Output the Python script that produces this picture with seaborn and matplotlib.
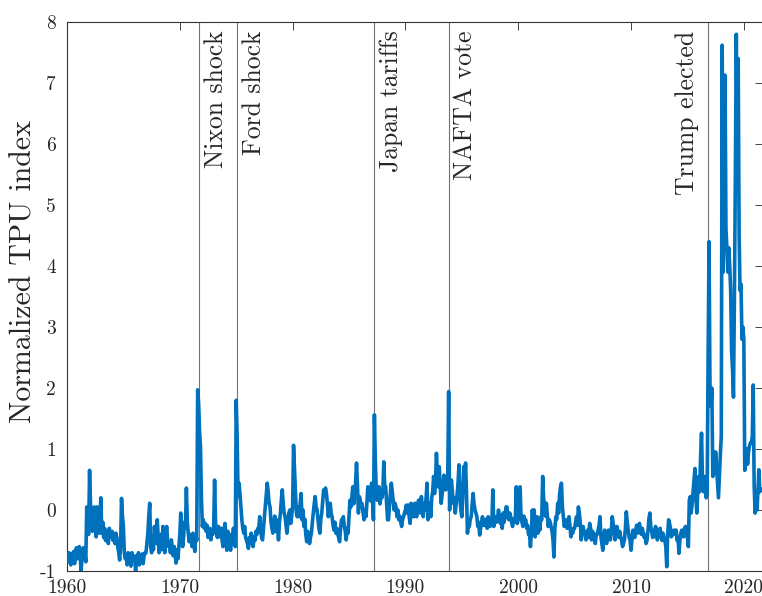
import numpy as np
import pandas as pd
import matplotlib
matplotlib.use("Agg")
import matplotlib.pyplot as plt
import seaborn as sns

# Monthly normalized trade policy uncertainty index, Jan 1960 - Jul 2021
tpu_1960s = [
    -0.72, -0.85, -0.70, -0.78, -0.90, -0.72, -0.80, -0.68, -0.88, -0.75, -0.62, -0.80,
    -0.70, -0.60, -0.75, -1.00, -0.78, -0.62, -0.80, -0.70, -0.85, 0.05, -0.30, -0.40,
    0.65, 0.10, -0.20, -0.35, -0.25, 0.05, -0.10, -0.44, 0.05, -0.30, -0.38, -0.10,
    0.20, -0.38, -0.20, -0.45, -0.30, -0.50, -0.35, -0.40, -0.55, -0.30, -0.45, -0.40,
    -0.35, -0.50, -0.40, -0.55, -0.38, -0.45, -0.60, -0.70, -0.82, -0.60, 0.19, -0.10,
    -0.27, -0.71, -0.80, -0.75, -0.90, -0.70, -0.85, -0.78, -0.92, -0.70, -0.82, -0.75,
    -0.80, -1.00, -0.75, -0.85, -0.70, -0.90, -0.78, -0.82, -0.72, -0.88, -0.75, -0.70,
    -0.70, -0.55, -0.38, -0.10, 0.11, -0.60, -0.70, -0.50, -0.65, -0.27, -0.45, -0.55,
    -0.16, -0.45, -0.70, -0.55, -0.40, -0.65, -0.27, -0.50, -0.70, -0.45, -0.27, -0.50,
    -0.60, -0.55, -0.70, -0.49, -0.62, -0.75, -0.60, -0.71, -0.87, -0.65, -0.80, -0.60,
]
tpu_1970s = [
    -0.40, -0.05, -0.35, -0.60, -0.45, -0.20, -0.30, 0.36, -0.20, -0.38, -0.52, -0.40,
    -0.45, -0.60, -0.38, -0.55, -0.68, -0.40, -0.50, 1.97, 1.75, 1.30, 1.04, 0.20,
    -0.27, -0.16, -0.30, -0.22, -0.35, -0.25, -0.45, -0.38, -0.30, -0.49, -0.35, -0.40,
    -0.30, 0.49, -0.20, -0.38, -0.45, -0.27, -0.35, -0.44, -0.30, -0.50, -0.60, -0.35,
    -0.22, -0.40, -0.66, -0.35, -0.60, -0.45, -0.66, -0.40, -0.55, -0.30, -0.45, -0.60,
    1.80, 1.20, 0.22, 0.44, 0.27, 0.05, -0.16, -0.30, -0.38, -0.27, -0.45, -0.50,
    -0.55, -0.63, -0.45, -0.50, -0.38, -0.55, -0.60, -0.44, -0.50, -0.35, -0.40, -0.30,
    -0.30, -0.11, -0.35, -0.45, -0.49, -0.30, -0.10, 0.10, 0.27, 0.44, 0.30, 0.11,
    0.05, -0.20, -0.30, -0.38, -0.25, -0.10, -0.35, -0.16, -0.30, -0.49, -0.20, -0.05,
    0.16, 0.33, 0.11, -0.05, -0.11, -0.25, -0.38, -0.20, -0.05, 0.00, -0.22, -0.10,
]
tpu_1980s = [
    0.05, 1.06, 0.66, 0.30, -0.05, -0.11, 0.05, -0.11, 0.10, 0.27, -0.16, 0.00,
    -0.27, -0.15, -0.40, -0.52, -0.35, -0.38, -0.55, -0.45, -0.38, -0.20, -0.05, 0.10,
    0.22, 0.05, 0.00, -0.16, -0.30, -0.38, -0.15, -0.05, 0.15, 0.33, 0.25, 0.36,
    0.27, 0.10, -0.11, 0.05, 0.11, -0.05, -0.11, -0.25, -0.33, -0.20, -0.38, -0.30,
    -0.40, -0.45, -0.52, -0.30, -0.16, -0.20, -0.11, -0.27, -0.35, -0.49, -0.30, -0.38,
    -0.10, 0.16, 0.05, 0.20, 0.38, 0.10, 0.25, 0.45, 0.77, 0.40, -0.05, 0.22,
    0.16, 0.05, 0.10, -0.05, -0.16, 0.00, -0.11, 0.10, 0.38, 0.20, 0.33, 0.15,
    0.44, 0.15, -0.16, 1.56, 0.80, 0.33, 0.16, 0.25, 0.38, 0.10, 0.27, 0.20,
    0.30, 0.79, 0.40, 0.38, 0.10, -0.16, -0.16, 0.05, 0.27, 0.44, 0.30, 0.16,
    0.00, 0.11, 0.05, -0.11, 0.00, -0.16, -0.10, -0.20, -0.27, -0.15, -0.11, -0.05,
]
tpu_1990s = [
    0.00, 0.08, -0.05, 0.08, -0.11, -0.22, 0.11, -0.11, 0.05, -0.11, 0.11, -0.05,
    -0.11, 0.05, 0.16, 0.00, -0.05, 0.22, 0.05, -0.11, 0.10, 0.00, 0.20, 0.44,
    -0.16, 0.00, 0.11, -0.11, 0.20, 0.30, 0.55, 0.27, 0.45, 0.93, 0.60, 0.38,
    0.71, 0.40, 0.11, 0.25, 0.38, 0.57, 0.45, 0.33, 0.40, 0.50, 1.94, 0.00,
    0.33, 0.49, 0.30, 0.11, 0.20, -0.05, 0.10, 0.25, 0.45, 0.74, 0.20, 0.00,
    -0.11, 0.20, 0.71, 0.50, 0.77, 0.27, -0.38, -0.20, -0.27, -0.15, -0.11, 0.10,
    0.27, 0.10, 0.00, -0.05, -0.11, -0.27, -0.20, -0.41, -0.30, -0.20, -0.11, -0.25,
    -0.25, -0.22, -0.15, -0.30, -0.11, -0.20, -0.27, -0.15, -0.20, 0.33, -0.27, -0.15,
    -0.11, -0.20, -0.15, 0.00, -0.10, -0.22, -0.15, -0.30, -0.05, -0.20, -0.10, 0.05,
    0.05, -0.10, -0.16, -0.05, -0.11, -0.20, -0.27, -0.15, -0.20, -0.10, 0.38, -0.22,
]
tpu_2000s = [
    -0.15, 0.00, 0.38, -0.11, -0.20, -0.27, -0.10, -0.20, -0.16, -0.30, -0.25, -0.40,
    -0.40, -0.60, -0.38, 0.00, -0.27, 0.00, -0.44, -0.20, -0.11, -0.38, -0.16, -0.33,
    -0.11, -0.16, 0.55, 0.20, 0.05, -0.10, 0.11, -0.10, -0.27, -0.16, -0.20, -0.27,
    -0.35, -0.49, -0.77, -0.30, -0.11, -0.15, 0.11, -0.05, 0.25, 0.38, 0.44, 0.05,
    -0.10, -0.27, -0.20, -0.16, -0.30, -0.27, -0.11, -0.25, -0.44, -0.35, -0.38, -0.30,
    -0.30, -0.20, -0.11, -0.25, 0.05, -0.05, -0.20, -0.49, -0.30, -0.27, -0.35, -0.38,
    -0.49, -0.40, -0.33, -0.45, -0.22, -0.30, -0.49, -0.35, -0.38, -0.45, -0.55, -0.40,
    -0.40, -0.33, -0.25, -0.11, -0.44, -0.55, -0.66, -0.45, -0.33, -0.40, -0.55, -0.45,
    -0.33, -0.40, -0.49, -0.35, -0.11, -0.22, -0.30, -0.49, -0.35, -0.27, -0.40, -0.45,
    -0.35, -0.44, -0.50, -0.60, -0.55, -0.49, -0.30, -0.03, -0.20, -0.33, -0.45, -0.50,
]
tpu_2010s = [
    -0.66, -0.50, -0.33, -0.40, -0.45, -0.33, -0.25, -0.38, -0.30, -0.22, -0.35, -0.40,
    -0.30, -0.38, -0.45, -0.40, -0.55, -0.50, -0.35, -0.15, -0.05, -0.27, -0.35, -0.45,
    -0.44, -0.35, -0.27, -0.30, -0.49, -0.40, -0.38, -0.30, -0.44, -0.50, -0.38, -0.44,
    -0.50, -0.60, -0.93, -0.40, -0.16, -0.22, -0.30, -0.44, -0.35, -0.40, -0.33, -0.38,
    -0.33, -0.50, -0.45, -0.71, -0.50, -0.38, -0.33, -0.40, -0.44, -0.30, -0.27, -0.35,
    -0.45, -0.60, 0.16, 0.22, -0.05, 0.10, 0.30, 0.52, 0.68, 0.20, -0.05, 0.30,
    0.55, 0.30, 0.87, 1.26, 0.50, 0.30, 0.55, 0.40, 0.20, 0.30, 2.50, 4.40,
    2.00, 1.70, 2.00, 0.55, 0.95, 0.60, 0.95, 0.70, 0.45, 0.20, 0.55, 0.90,
    1.20, 7.62, 3.90, 5.20, 7.13, 4.60, 4.30, 3.90, 4.30, 4.00, 3.60, 2.60,
    2.30, 1.85, 3.50, 5.50, 7.80, 6.00, 7.40, 4.50, 3.60, 3.70, 2.80, 3.00,
]
tpu_2020s = [
    2.80, 0.65, 0.90, 1.00, 0.75, 0.95, 1.05, 1.10, 1.10, 1.20, 2.05, 0.40,
    -0.05, 0.15, 0.00, 0.30, 0.66, 0.30, 0.35,
]

# Policy events marked with vertical lines (decimal year)
event_labels = ["Nixon shock", "Ford shock", "Japan tariffs", "NAFTA vote", "Trump elected"]
event_years = [1971.70, 1975.08, 1987.25, 1993.83, 2016.78]

xtick_years = [1960, 1970, 1980, 1990, 2000, 2010, 2020]
ytick_values = [-1, 0, 1, 2, 3, 4, 5, 6, 7, 8]

values = tpu_1960s + tpu_1970s + tpu_1980s + tpu_1990s + tpu_2000s + tpu_2010s + tpu_2020s
dates = 1960 + np.arange(len(values)) / 12.0
df = pd.DataFrame({"date": dates, "tpu": values})

sns.set_theme(style="white")
plt.rcParams["font.family"] = ["cmr10", "DejaVu Serif"]
plt.rcParams["axes.unicode_minus"] = False
plt.rcParams["mathtext.fontset"] = "cm"

fig = plt.figure(figsize=(7.62, 5.96), dpi=100)
ax = fig.add_axes([67 / 762, 25 / 596, 696 / 762, 549 / 596])

for yr, lab in zip(event_years, event_labels):
    ax.axvline(yr, color="0.45", lw=0.8, zorder=1)
    if lab == "Trump elected":
        ax.text(yr - 0.75, 7.86, lab, rotation=90, ha="right", va="top",
                fontsize=18.5, color="0.15")
    else:
        ax.text(yr + 0.45, 7.86, lab, rotation=90, ha="left", va="top",
                fontsize=18.5, color="0.15")

sns.lineplot(data=df, x="date", y="tpu", ax=ax, color="#0072BD", lw=2.6,
             estimator=None, zorder=3)

ax.set_xlim(1960, 2021.7)
ax.set_ylim(-1, 8)
ax.set_xticks(xtick_years)
ax.set_yticks(ytick_values)
ax.set_xlabel("")
ax.set_ylabel("Normalized TPU index", fontsize=21.5, color="0.15")
ax.yaxis.set_label_coords(-0.042, 0.545)
ax.tick_params(direction="in", length=6, width=0.6, top=True, right=True,
               labelsize=14, colors="0.15")
ax.tick_params(axis="x", pad=6)
ax.tick_params(axis="y", pad=8)
for s in ax.spines.values():
    s.set_color("0.2")
    s.set_linewidth(0.8)

fig.savefig("out.png", dpi=100)
